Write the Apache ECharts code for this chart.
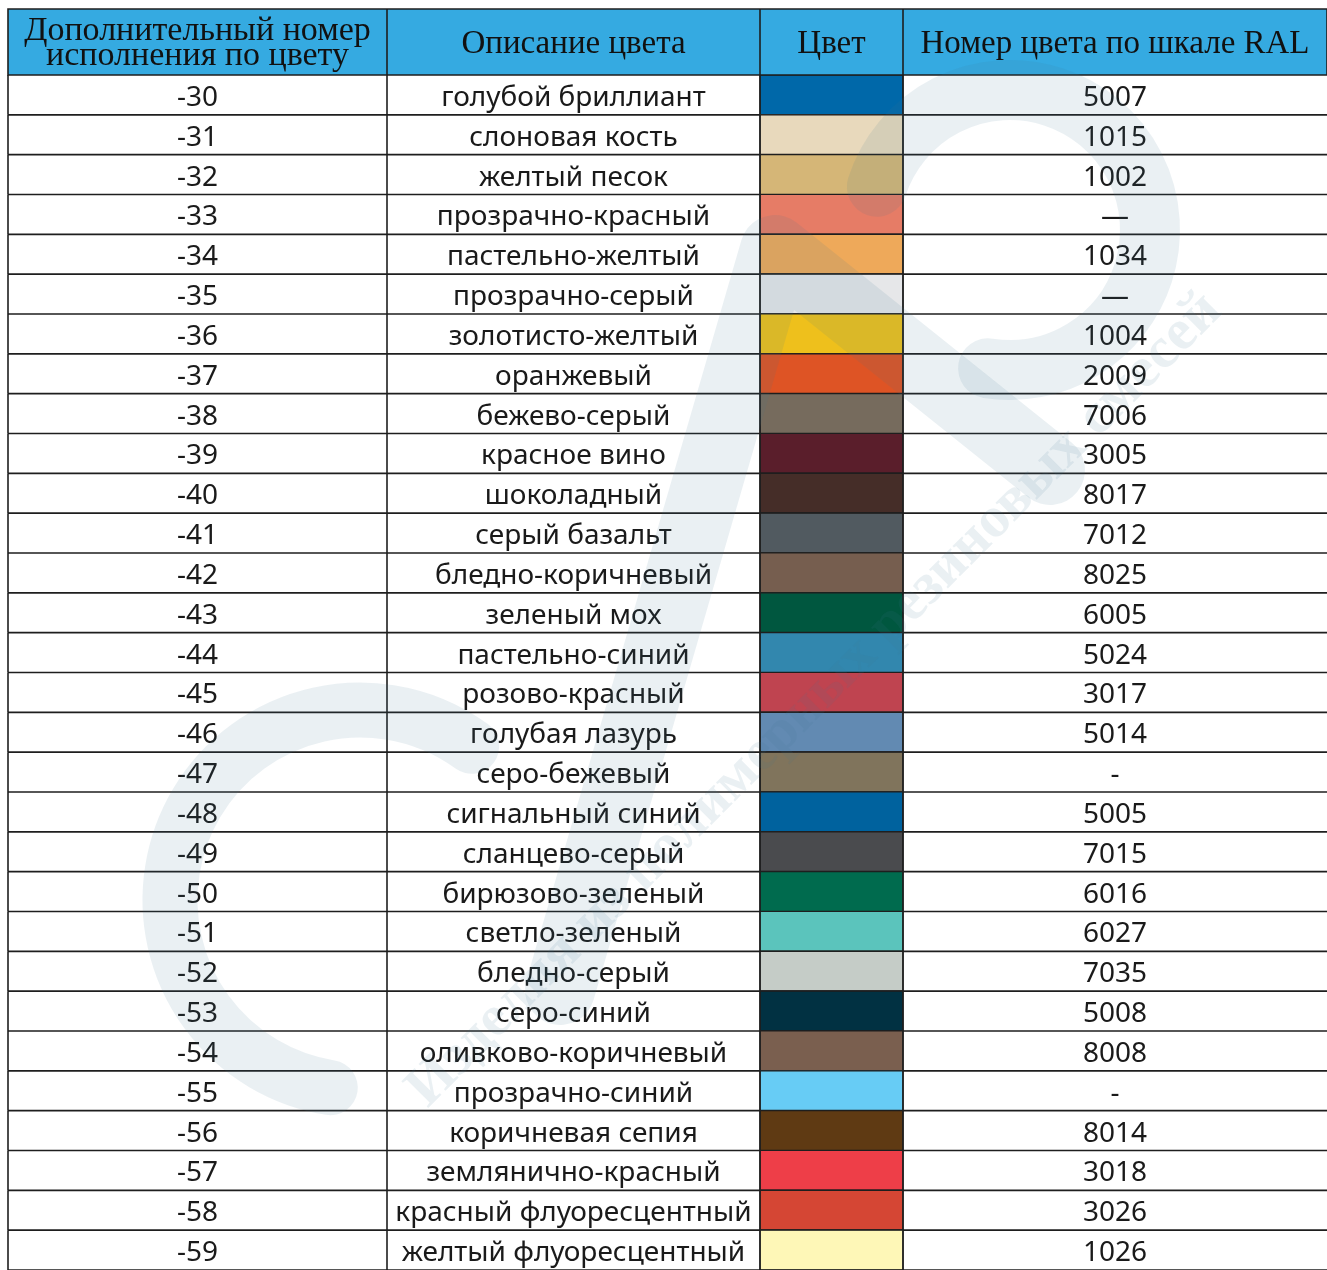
<!DOCTYPE html>
<html lang="ru">
<head>
  <meta charset="utf-8">
  <title>Цвета RAL</title>
  <script src="https://cdn.jsdelivr.net/npm/echarts@6/dist/echarts.min.js"></script>
</head>
<body style="margin: 0; background: #fff">
<div id="main" style="width: 1327px; height: 1270px"></div>

<script type="text/javascript">
  // данные таблицы
  var codes = ['-30', '-31', '-32', '-33', '-34', '-35', '-36', '-37', '-38', '-39',
    '-40', '-41', '-42', '-43', '-44', '-45', '-46', '-47', '-48', '-49',
    '-50', '-51', '-52', '-53', '-54', '-55', '-56', '-57', '-58', '-59'];
  var names = ['голубой бриллиант', 'слоновая кость', 'желтый песок', 'прозрачно-красный',
    'пастельно-желтый', 'прозрачно-серый', 'золотисто-желтый', 'оранжевый', 'бежево-серый',
    'красное вино', 'шоколадный', 'серый базальт', 'бледно-коричневый', 'зеленый мох',
    'пастельно-синий', 'розово-красный', 'голубая лазурь', 'серо-бежевый', 'сигнальный синий',
    'сланцево-серый', 'бирюзово-зеленый', 'светло-зеленый', 'бледно-серый', 'серо-синий',
    'оливково-коричневый', 'прозрачно-синий', 'коричневая сепия', 'землянично-красный',
    'красный флуоресцентный', 'желтый флуоресцентный'];
  var swatches = ['#0068A9', '#E8D9BC', '#D5B677', '#E67C66', '#EEA95A', '#E6E7E9', '#EEC01C',
    '#DE5425', '#766B5D', '#5A1E2B', '#452D28', '#515A60', '#765E4F', '#00573F', '#3287AE',
    '#BF4450', '#628AB2', '#80745C', '#00629E', '#4A4B4E', '#006B4E', '#5BC4BC', '#C5CCC7',
    '#013142', '#7A5F4F', '#67CCF5', '#5F3A13', '#EE3E48', '#D54634', '#FEF7B7'];
  var ralNumbers = ['5007', '1015', '1002', '—', '1034', '—', '1004', '2009', '7006', '3005',
    '8017', '7012', '8025', '6005', '5024', '3017', '5014', '-', '5005', '7015',
    '6016', '6027', '7035', '5008', '8008', '-', '8014', '3018', '3026', '1026'];
  var headers = ['Дополнительный номер\nисполнения по цвету', 'Описание цвета', 'Цвет',
    'Номер цвета по шкале RAL'];

  var colEdges = [0, 379, 752, 895, 1319];
  var gridLeft = 8, gridTop = 75, rowH = 40, headTop = 9;
  var lineColor = '#1e1e1e';
  var bodyFont = '"Noto Sans", sans-serif';
  var headFont = '"Liberation Serif", serif';

  var mychart = echarts.init(document.getElementById('main'));

  function renderRow(params, api) {
    var i = api.value(0);
    var c = api.coord([0, i]);
    var h = api.size([0, 1])[1];
    var y0 = c[1] - h / 2, y1 = c[1] + h / 2;
    var xs = colEdges.map(function (e) { return api.coord([e, i])[0]; });
    var children = [];
    children.push({
      type: 'rect',
      shape: {x: xs[2], y: y0, width: xs[3] - xs[2], height: h},
      style: {fill: swatches[i], stroke: lineColor, lineWidth: 1.2}
    });
    children.push({
      type: 'line', shape: {x1: xs[0], y1: y1, x2: xs[4], y2: y1},
      style: {stroke: lineColor, lineWidth: 1.6}
    });
    for (var k = 0; k < 4; k++) {
      children.push({
        type: 'line', shape: {x1: xs[k], y1: y0, x2: xs[k], y2: y1},
        style: {stroke: lineColor, lineWidth: 1.6}
      });
    }
    var texts = [codes[i], names[i], null, ralNumbers[i]];
    texts.forEach(function (t, k) {
      if (t === null) return;
      children.push({
        type: 'text',
        style: {
          x: (xs[k] + xs[k + 1]) / 2, y: c[1] + 3, text: t,
          textAlign: 'center', textVerticalAlign: 'middle',
          font: '28px ' + bodyFont, fill: '#1a1a1a'
        }
      });
    });
    return {type: 'group', children: children};
  }

  // шапка таблицы
  var headGraphics = [{
    type: 'rect', z: 10,
    shape: {x: gridLeft, y: headTop, width: 1327 - gridLeft, height: gridTop - headTop},
    style: {fill: '#35AAE1', stroke: lineColor, lineWidth: 1.6}
  }];
  headers.forEach(function (t, k) {
    var x0 = gridLeft + colEdges[k], x1 = gridLeft + colEdges[k + 1];
    if (k > 0) {
      headGraphics.push({
        type: 'line', z: 11, shape: {x1: x0, y1: headTop, x2: x0, y2: gridTop},
        style: {stroke: lineColor, lineWidth: 1.6}
      });
    }
    var twoLine = t.indexOf('\n') >= 0;
    headGraphics.push({
      type: 'text', z: 12,
      style: {
        x: (x0 + x1) / 2, y: (headTop + gridTop) / 2 + 2, text: t,
        textAlign: 'center', textVerticalAlign: 'middle',
        font: (twoLine ? '34px ' : '33px ') + headFont, lineHeight: 25, fill: '#111'
      }
    });
  });

  // водяной знак
  var wm = 'rgba(60,120,150,0.11)';
  var watermark = [
    {type: 'polyline', z: 20, silent: true,
      shape: {points: [[560, 990], [775, 250], [1050, 470]]},
      style: {stroke: wm, lineWidth: 70, lineCap: 'round', lineJoin: 'round', fill: null}},
    {type: 'arc', z: 20, silent: true,
      shape: {cx: 1010, cy: 230, r: 140, startAngle: -Math.PI * 0.9, endAngle: Math.PI * 0.55},
      style: {stroke: wm, lineWidth: 60, lineCap: 'round', fill: null}},
    {type: 'arc', z: 20, silent: true,
      shape: {cx: 360, cy: 900, r: 190, startAngle: Math.PI * 0.55, endAngle: Math.PI * 1.7},
      style: {stroke: wm, lineWidth: 55, lineCap: 'round', fill: null}},
    {type: 'text', z: 21, silent: true, x: 815, y: 700, rotation: Math.PI / 4,
      style: {text: 'Изделия из полимерных резиновых смесей', textAlign: 'center',
        textVerticalAlign: 'middle', font: 'bold 58px "Liberation Serif", serif', fill: wm}}
  ];

  mychart.setOption({
    animation: false,
    grid: {left: gridLeft, top: gridTop, width: 1319, height: rowH * codes.length},
    xAxis: {type: 'value', min: 0, max: 1319, show: false},
    yAxis: {type: 'category', data: codes, inverse: true, show: false},
    series: [{
      type: 'custom',
      renderItem: renderRow,
      clip: false,
      encode: {y: 0},
      data: codes.map(function (c, i) { return [i]; })
    }],
    graphic: headGraphics.concat(watermark)
  });

  window.addEventListener('resize', mychart.resize);
</script>
</body>
</html>
